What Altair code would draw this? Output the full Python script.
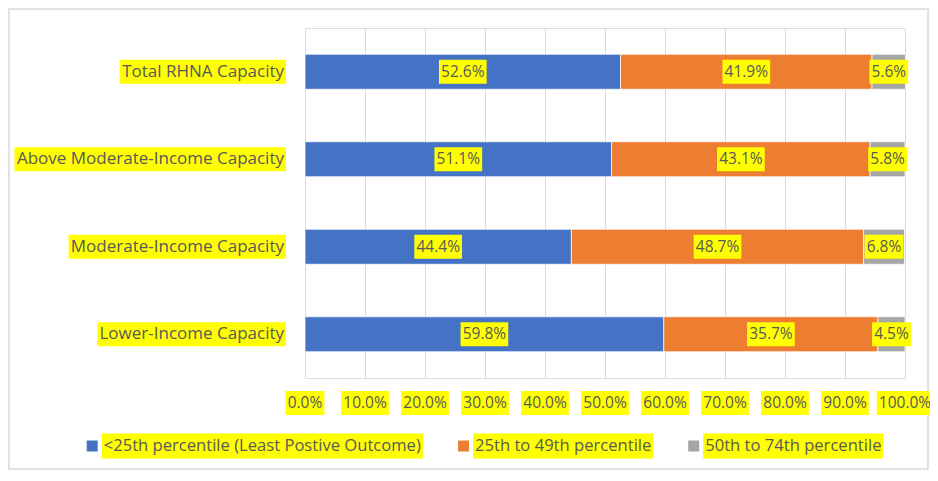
import altair as alt
import pandas as pd

# ---------------- data ----------------
categories = [
    "Total RHNA Capacity",
    "Above Moderate-Income Capacity",
    "Moderate-Income Capacity",
    "Lower-Income Capacity",
]
series = [
    "<25th percentile (Least Postive Outcome)",
    "25th to 49th percentile",
    "50th to 74th percentile",
]
lowest_pct = [52.6, 51.1, 44.4, 59.8]
middle_pct = [41.9, 43.1, 48.7, 35.7]
upper_pct = [5.6, 5.8, 6.8, 4.5]
tick_values = [0, 10, 20, 30, 40, 50, 60, 70, 80, 90, 100]
tick_labels = ["0.0%", "10.0%", "20.0%", "30.0%", "40.0%", "50.0%",
               "60.0%", "70.0%", "80.0%", "90.0%", "100.0%"]
colors = ["#4472C4", "#ED7D31", "#A5A5A5"]

# ---------------- layout / style ----------------
PLOT_W, PLOT_H = 600, 350
PX = 100.0 / PLOT_W          # x data units per pixel
FONT = "Open Sans"
TEXT_COLOR = "#595959"
HILITE = "#FFFF00"
NUM_SIZE = 15.5
TXT_SIZE = 17
LEG_SIZE = 16.6
PAD = 2
BOX_H = 24
TICK_Y = 375                 # px below plot top (label centre)
LEGEND_Y = 418
LEGEND_CENTER = 180          # px from plot left
SQ = 11

# approximate Open Sans advance widths (units per em = 2048)
ADV = {
    " ": 532, "%": 1716, "(": 604, ")": 604, "-": 659, ".": 545, "<": 1171,
    "A": 1296, "B": 1327, "C": 1292, "H": 1511, "I": 571, "L": 1057,
    "M": 1849, "N": 1556, "O": 1599, "P": 1251, "R": 1298, "T": 1126,
    "a": 1139, "b": 1255, "c": 975, "d": 1255, "e": 1149, "h": 1257,
    "i": 518, "l": 518, "m": 1905, "n": 1257, "o": 1237, "p": 1255,
    "r": 836, "s": 977, "t": 723, "u": 1257, "v": 1051, "w": 1597, "y": 1051,
}


def text_width(s, size):
    return sum(ADV.get(ch, 1171 if ch.isdigit() else 1150) for ch in s) / 2048.0 * size


# stacked segments
seg_rows = []
for ci, cat in enumerate(categories):
    start = 0.0
    for si, vals in enumerate([lowest_pct, middle_pct, upper_pct]):
        v = vals[ci]
        end = start + v
        label = f"{v:.1f}%"
        mid = (start + end) / 2
        w = text_width(label, NUM_SIZE) + 2 * PAD
        seg_rows.append(dict(category=cat, series=series[si], order=si,
                             start=start, end=end, mid=mid, label=label,
                             lx0=mid - w / 2 * PX, lx1=mid + w / 2 * PX))
        start = end
seg = pd.DataFrame(seg_rows)

# category labels (drawn as text so they can be highlighted)
GAP = 19
cat_rows = []
for cat in categories:
    w = text_width(cat, TXT_SIZE) + 2 * PAD
    cat_rows.append(dict(category=cat, tx=-(GAP + PAD) * PX,
                         bx0=-(GAP + w) * PX, bx1=-GAP * PX))
cats = pd.DataFrame(cat_rows)

# tick labels
tick_rows = []
for tv, tl in zip(tick_values, tick_labels):
    w = text_width(tl, NUM_SIZE) + 2 * PAD
    tick_rows.append(dict(tick=tv, label=tl, bx0=tv - w / 2 * PX, bx1=tv + w / 2 * PX))
ticks = pd.DataFrame(tick_rows)

# legend
ITEM_GAP = 35
SQ_GAP = 4
widths = [text_width(s, LEG_SIZE) + 2 * PAD for s in series]
total = sum(SQ + SQ_GAP + w for w in widths) + ITEM_GAP * (len(series) - 1)
x = LEGEND_CENTER - total / 2
leg_rows = []
for s, w, c in zip(series, widths, colors):
    leg_rows.append(dict(series=s, color=c,
                         sx0=x * PX, sx1=(x + SQ) * PX,
                         bx0=(x + SQ + SQ_GAP) * PX,
                         bx1=(x + SQ + SQ_GAP + w) * PX,
                         tx=(x + SQ + SQ_GAP + PAD) * PX))
    x += SQ + SQ_GAP + w + ITEM_GAP
leg = pd.DataFrame(leg_rows)

# ---------------- chart ----------------
xscale = alt.Scale(domain=[0, 100], nice=False, zero=False)
yscale = alt.Scale(domain=categories, paddingInner=0.6, paddingOuter=0.3)

base_x_axis = alt.Axis(values=tick_values, grid=True, labels=False, ticks=False,
                       domain=False, title=None, gridColor="#D9D9D9", gridWidth=1)

frame = alt.Chart(pd.DataFrame({"k": [0]})).mark_rect(
    fill=None, stroke="#D9D9D9", strokeWidth=1.5
).encode(x=alt.value(-296), x2=alt.value(623), y=alt.value(-19), y2=alt.value(441))

bars = alt.Chart(seg).mark_bar(stroke="white", strokeWidth=0.75).encode(
    x=alt.X("start:Q", scale=xscale, axis=base_x_axis),
    x2="end:Q",
    y=alt.Y("category:N", scale=yscale, axis=None, sort=categories),
    color=alt.Color("series:N", scale=alt.Scale(domain=series, range=colors), legend=None),
)

lab_bg = alt.Chart(seg).mark_bar(size=BOX_H, color=HILITE).encode(
    x="lx0:Q", x2="lx1:Q", y=alt.Y("category:N", sort=categories)
)
lab_txt = alt.Chart(seg).mark_text(
    font=FONT, fontSize=NUM_SIZE, color=TEXT_COLOR, align="center", baseline="middle"
).encode(x="mid:Q", y=alt.Y("category:N", sort=categories), text="label:N")

cat_bg = alt.Chart(cats).mark_bar(size=BOX_H, color=HILITE).encode(
    x="bx0:Q", x2="bx1:Q", y=alt.Y("category:N", sort=categories)
)
cat_txt = alt.Chart(cats).mark_text(
    font=FONT, fontSize=TXT_SIZE, color=TEXT_COLOR, align="right", baseline="middle"
).encode(x="tx:Q", y=alt.Y("category:N", sort=categories), text="category:N")

tick_bg = alt.Chart(ticks).mark_rect(color=HILITE).encode(
    x="bx0:Q", x2="bx1:Q",
    y=alt.value(TICK_Y - BOX_H / 2), y2=alt.value(TICK_Y + BOX_H / 2)
)
tick_txt = alt.Chart(ticks).mark_text(
    font=FONT, fontSize=NUM_SIZE, color=TEXT_COLOR, align="center", baseline="middle"
).encode(x="tick:Q", y=alt.value(TICK_Y), text="label:N")

leg_sq = alt.Chart(leg).mark_rect().encode(
    x="sx0:Q", x2="sx1:Q",
    y=alt.value(LEGEND_Y - SQ / 2), y2=alt.value(LEGEND_Y + SQ / 2),
    color=alt.Color("color:N", scale=None),
)
leg_bg = alt.Chart(leg).mark_rect(color=HILITE).encode(
    x="bx0:Q", x2="bx1:Q",
    y=alt.value(LEGEND_Y - BOX_H / 2 - 0.5), y2=alt.value(LEGEND_Y + BOX_H / 2 + 0.5)
)
leg_txt = alt.Chart(leg).mark_text(
    font=FONT, fontSize=LEG_SIZE, color=TEXT_COLOR, align="left", baseline="middle"
).encode(x="tx:Q", y=alt.value(LEGEND_Y), text="series:N")

chart = alt.layer(
    frame, bars, lab_bg, lab_txt, cat_bg, cat_txt, tick_bg, tick_txt, leg_sq, leg_bg, leg_txt
).properties(
    width=PLOT_W, height=PLOT_H,
    padding={"left": 297, "top": 20, "right": 25, "bottom": 93},
    autosize=alt.AutoSizeParams(type="none"),
).configure_view(stroke=None).configure(background="white")

chart.save("out.html", embed_options={"renderer": "svg", "actions": False})
